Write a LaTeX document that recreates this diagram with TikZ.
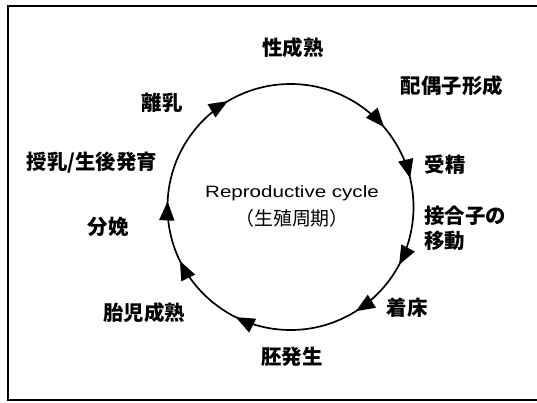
\documentclass[tikz,border=0pt]{standalone}
\usepackage{fontspec}
\usetikzlibrary{decorations.markings,arrows.meta}
\newfontfamily\jp{Noto Sans CJK JP}
\newfontfamily\lat{Liberation Sans}[FakeStretch=1.25]
\tikzset{
  lbl/.style={inner sep=0pt, font=\jp\bfseries\fontsize{20.5}{25}\selectfont},
  ctr/.style={inner sep=0pt},
  frame/.style={line width=2bp},
  cyc/.style={line width=1.7bp},
  cyctip/.tip={Triangle[length=19bp,width=15bp]}
}
\begin{document}
\begin{tikzpicture}[x=1bp,y=1bp]
\useasboundingbox (0,0) rectangle (537,402);
% frame (right side cropped)
\draw[frame] (537,396) -- (8,396) -- (8,2) -- (537,2);
% cycle
\coordinate (c) at (290.5,195);
\draw[cyc, decoration={markings,
    mark=at position 0.0778 with {\arrow{cyctip}},
    mark=at position 0.161 with {\arrow{cyctip}},
    mark=at position 0.3236 with {\arrow{cyctip}},
    mark=at position 0.4278 with {\arrow{cyctip}},
    mark=at position 0.5072 with {\arrow{cyctip}},
    mark=at position 0.665 with {\arrow{cyctip}},
    mark=at position 0.8875 with {\arrow{cyctip}},
    mark=at position 0.9625 with {\arrow{cyctip}}},
  postaction={decorate}]
  (c) ++(0:123) arc[start angle=0, end angle=-360, radius=123];
% centre text
\node[ctr, font=\lat\fontsize{16.5}{20}\selectfont] (title) at (292,209) {Reproductive cycle};
\node[ctr, font=\jp\fontsize{19}{22}\selectfont] (sub) at (292,184) {（生殖周期）};
% stage labels
\node[lbl] (s1) at (293,354) {性成熟};
\node[lbl] (s2) at (452,316) {配偶子形成};
\node[lbl] (s3) at (445,237) {受精};
\node[lbl, anchor=west, align=left] (s4) at (424,174) {接合子の\\移動};
\node[lbl] (s5) at (407,94) {着床};
\node[lbl] (s6) at (292,45) {胚発生};
\node[lbl] (s7) at (144,89) {胎児成熟};
\node[lbl] (s8) at (108,175) {分娩};
\node[lbl] (s9) at (92,239) {授乳/生後発育};
\node[lbl] (s10) at (162,299) {離乳};
\end{tikzpicture}
\end{document}
